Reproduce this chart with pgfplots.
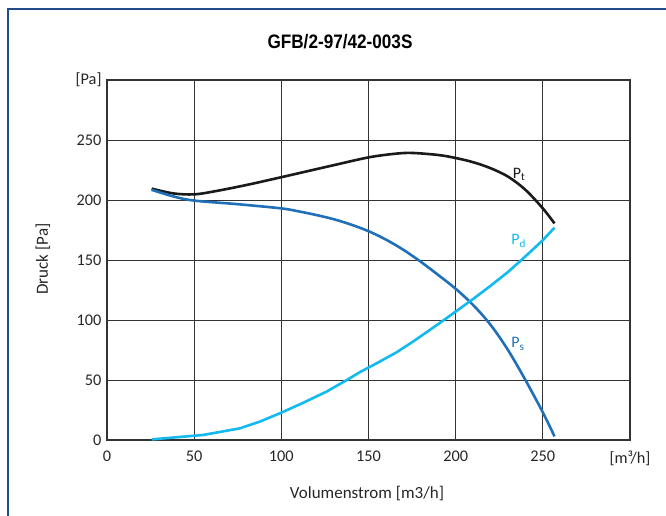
\documentclass[border=0pt]{standalone}
\usepackage{pgfplots}
\pgfplotsset{compat=1.18}
\usepackage{fontspec}
\setmainfont{Carlito}
\newfontfamily\titlefont{Liberation Sans}
\definecolor{framecol}{RGB}{35,75,135}
\definecolor{ptcol}{RGB}{26,26,26}
\definecolor{pscol}{RGB}{31,112,184}
\definecolor{pdcol}{RGB}{18,186,240}
\begin{document}
\begin{tikzpicture}
\path[use as bounding box] (0,0) rectangle (666bp,516bp);
\draw[framecol, line width=1.6bp] (8bp,0) -- (8bp,507bp) -- (666bp,507bp);
\node[font=\titlefont\bfseries\fontsize{19.5bp}{22bp}\selectfont, xscale=0.88] at (340bp,474bp) {GFB/2-97/42-003S};
\node[rotate=90, font=\fontsize{17bp}{20bp}\selectfont, text=black!85] at (43bp,257bp) {Druck [Pa]};
\node[font=\fontsize{17bp}{20bp}\selectfont, text=black!85] at (367bp,22bp) {Volumenstrom [m3/h]};
\begin{axis}[
  at={(107bp,76bp)}, anchor=south west,
  scale only axis, width=523bp, height=360bp,
  xmin=0, xmax=300, ymin=0, ymax=300,
  xtick={0,50,100,150,200,250,300},
  xticklabels={\mbox{0},\mbox{50},\mbox{100},\mbox{150},\mbox{200},\mbox{250},\mbox{[m³/h]}},
  ytick={0,50,100,150,200,250,300},
  yticklabels={\mbox{0},\mbox{50},\mbox{100},\mbox{150},\mbox{200},\mbox{250},\mbox{[Pa]}},
  tick style={draw=none},
  ticklabel style={font=\fontsize{16.3bp}{19bp}\selectfont, text=black!85},
  xticklabel style={yshift=-7bp},
  yticklabel style={xshift=-2bp},
  grid=major,
  major grid style={black!80, line width=0.9bp},
  axis line style={black!80, line width=1.1bp},
  clip=false,
]
\addplot[ptcol, line width=2.6bp, smooth, tension=0.55] coordinates {
(25.6,209.5) (38,205.5) (50,204.7) (62,207.3) (80,212.5) (100,219) (130,229)
(150,235.5) (165,238.5) (175,239.2) (190,237.5) (200,235) (210,231.5)
(220,226.5) (230,219.5) (240,208.5) (250,193) (256.7,180.5)};
\addplot[pscol, line width=2.6bp, smooth, tension=0.55] coordinates {
(25.6,208.5) (38,203) (50,199.5) (75,196.5) (100,193) (110,190.5) (120,187.5)
(130,184) (140,179.5) (150,174) (160,167) (170,158.5) (180,148.5) (190,137.5)
(200,126) (210,112.5) (220,96) (230,75) (240,50) (250,23) (256.7,3)};
\addplot[pdcol, line width=2.6bp] coordinates {
(25.6,0.5) (55.2,4.2) (76.2,9.7) (88,15.5) (100,22.8) (112.5,31) (125.9,40.3)
(137,49.5) (145,56.5) (156.4,65.3) (166,73) (175,81.5) (184,90.5) (192.7,99.4)
(200,107) (210,117.5) (220,128.5) (230,140) (240,153) (250,166.5) (256.7,177)};
\node[anchor=base west, text=ptcol, font=\fontsize{16bp}{18bp}\selectfont, inner sep=0pt] at (axis cs:232.7,218.3) {P\textsubscript{t}};
\node[anchor=base west, text=pdcol, font=\fontsize{16bp}{18bp}\selectfont, inner sep=0pt] at (axis cs:231.9,162.5) {P\textsubscript{d}};
\node[anchor=base west, text=pscol, font=\fontsize{16bp}{18bp}\selectfont, inner sep=0pt] at (axis cs:231.9,76.7) {P\textsubscript{s}};
\end{axis}
\end{tikzpicture}
\end{document}
